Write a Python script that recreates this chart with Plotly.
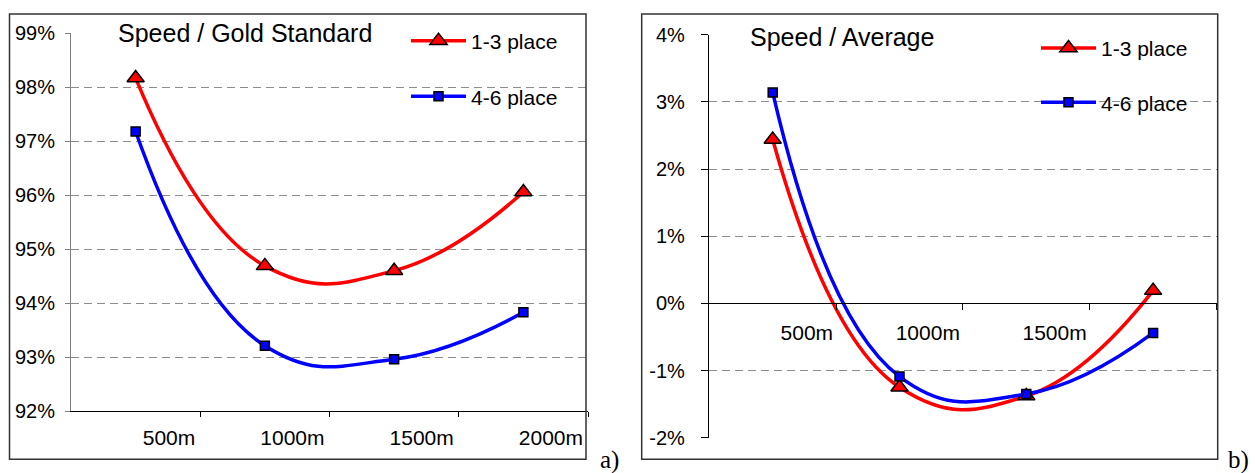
import plotly.graph_objects as go

# ---------------- data ----------------
categories = ["500m", "1000m", "1500m", "2000m"]
gold_top3 = [98.17, 94.69, 94.60, 96.06]      # % of gold standard, 1-3 place
gold_4to6 = [97.18, 93.21, 92.96, 93.83]      # % of gold standard, 4-6 place
avg_top3 = [2.44, -1.25, -1.38, 0.19]         # % vs average, 1-3 place
avg_4to6 = [3.14, -1.09, -1.35, -0.44]        # % vs average, 4-6 place
left_ticks = [92, 93, 94, 95, 96, 97, 98, 99]
right_ticks = [-2, -1, 0, 1, 2, 3, 4]
right_ticktext = ["-2%", "-1%", "0%", "1%", "2%", "3%", "4%"]
right_xlabels = ["500m", "1000m", "1500m", ""]
series_names = ["1-3 place", "4-6 place"]

W, H = 1255, 473
FONT = "Arial, 'Liberation Sans', sans-serif"
SERIF = "'Times New Roman', 'Liberation Serif', serif"
RED, BLUE = "#FF0000", "#0000FF"


def px(x):
    return x / W


def py(y):
    return 1 - y / H


xs = list(range(len(categories)))
boundaries = [i + 0.5 for i in xs]

fig = go.Figure()


def add(xa, ya, vals, name, color, symbol, msize, legend):
    fig.add_trace(go.Scatter(
        x=xs, y=vals, name=name, xaxis=xa, yaxis=ya,
        mode="lines+markers",
        line=dict(color=color, width=3.5, shape="spline", smoothing=1.3),
        marker=dict(symbol=symbol, size=msize, color=color,
                    line=dict(color="black", width=1.5)),
        legend=legend, hoverinfo="skip",
    ))


add("x", "y", gold_top3, series_names[0], RED, "triangle-up", 15, "legend")
add("x", "y", gold_4to6, series_names[1], BLUE, "square", 9, "legend2")
add("x2", "y2", avg_top3, series_names[0], RED, "triangle-up", 15, "legend3")
add("x2", "y2", avg_4to6, series_names[1], BLUE, "square", 9, "legend4")

grid = dict(showgrid=True, gridcolor="#8c8c8c", gridwidth=1, griddash="8px,5px")
tickfont = dict(family=FONT, size=20, color="black")
xtickfont = dict(family=FONT, size=21, color="black")

legend_common = dict(
    orientation="v", bgcolor="rgba(0,0,0,0)", borderwidth=0,
    itemwidth=55, font=dict(family=FONT, size=21, color="black"),
    xanchor="left", yanchor="middle", itemclick=False, itemdoubleclick=False,
)

fig.update_layout(
    width=W, height=H, autosize=False,
    margin=dict(l=0, r=0, t=0, b=0, pad=0, autoexpand=False),
    paper_bgcolor="white", plot_bgcolor="white",
    showlegend=True,
    xaxis=dict(
        domain=[px(71), px(588)], range=[-0.5, 3.5], anchor="y",
        tickmode="array", tickvals=boundaries, ticktext=categories,
        ticks="outside", ticklen=5, tickcolor="black",
        ticklabelposition="outside left", tickfont=xtickfont,
        ticklabelstandoff=8, ticklabelshift=-4,
        showline=True, linecolor="black", linewidth=1,
        showgrid=False, zeroline=False, fixedrange=True, automargin=False,
    ),
    yaxis=dict(
        domain=[py(411), py(33.3)], range=[92, 99], anchor="x",
        tickmode="array", tickvals=left_ticks,
        ticktext=[f"{v}%" for v in left_ticks],
        ticks="outside", ticklen=5, tickcolor="#808080",
        tickfont=tickfont, ticklabelstandoff=6,
        showline=True, linecolor="#808080", linewidth=1,
        zeroline=False, fixedrange=True, automargin=False, **grid,
    ),
    xaxis2=dict(
        domain=[px(709.3), px(1216.5)], range=[-0.5, 3.5],
        anchor="free", position=py(303.3),
        tickmode="array", tickvals=boundaries, ticktext=right_xlabels,
        ticks="outside", ticklen=6, tickcolor="black",
        ticklabelposition="outside left", tickfont=xtickfont,
        ticklabelstandoff=10, ticklabelshift=-2,
        showline=True, linecolor="black", linewidth=1,
        showgrid=False, zeroline=False, fixedrange=True, automargin=False,
    ),
    yaxis2=dict(
        domain=[py(437.7), py(34.7)], range=[-2, 4], anchor="x2",
        tickmode="array", tickvals=right_ticks, ticktext=right_ticktext,
        ticks="outside", ticklen=7.5, tickcolor="black",
        tickfont=tickfont, ticklabelstandoff=12,
        showline=True, linecolor="black", linewidth=1,
        zeroline=False, fixedrange=True, automargin=False, **grid,
    ),
    legend=dict(x=px(406), y=py(41), **legend_common),
    legend2=dict(x=px(406), y=py(96.7), **legend_common),
    legend3=dict(x=px(1036), y=py(48.3), **legend_common),
    legend4=dict(x=px(1036), y=py(102.7), **legend_common),
)

# white boxes behind the legends (hide the gridlines there)
for x0, x1, y0, y1 in [(384, 584, 18, 118), (1010, 1214, 20, 128)]:
    fig.add_shape(type="rect", xref="paper", yref="paper",
                  x0=px(x0), x1=px(x1), y0=py(y1), y1=py(y0),
                  fillcolor="white", line=dict(width=0), layer="between")

# panel frames
for x0, x1 in [(9.5, 586), (641.7, 1217.7)]:
    fig.add_shape(type="rect", xref="paper", yref="paper",
                  x0=px(x0), x1=px(x1), y0=py(459.3), y1=py(14),
                  fillcolor="rgba(0,0,0,0)",
                  line=dict(color="#333333", width=1.5), layer="above")

# panel titles
fig.add_annotation(text="Speed / Gold Standard", xref="paper", yref="paper",
                   x=px(116), y=py(33), xanchor="left", yanchor="middle",
                   showarrow=False, font=dict(family=FONT, size=25, color="black"))
fig.add_annotation(text="Speed / Average", xref="paper", yref="paper",
                   x=px(748), y=py(37), xanchor="left", yanchor="middle",
                   showarrow=False, font=dict(family=FONT, size=25, color="black"))

# panel letters
fig.add_annotation(text="a)", xref="paper", yref="paper",
                   x=px(598), y=py(460), xanchor="left", yanchor="middle",
                   showarrow=False, font=dict(family=SERIF, size=25, color="black"))
fig.add_annotation(text="b)", xref="paper", yref="paper",
                   x=px(1226), y=py(460), xanchor="left", yanchor="middle",
                   showarrow=False, font=dict(family=SERIF, size=25, color="black"))

fig.write_html(
    "out.html",
    config={"displayModeBar": False},
    post_script="document.body.style.margin='0';document.body.style.overflow='hidden';",
)
